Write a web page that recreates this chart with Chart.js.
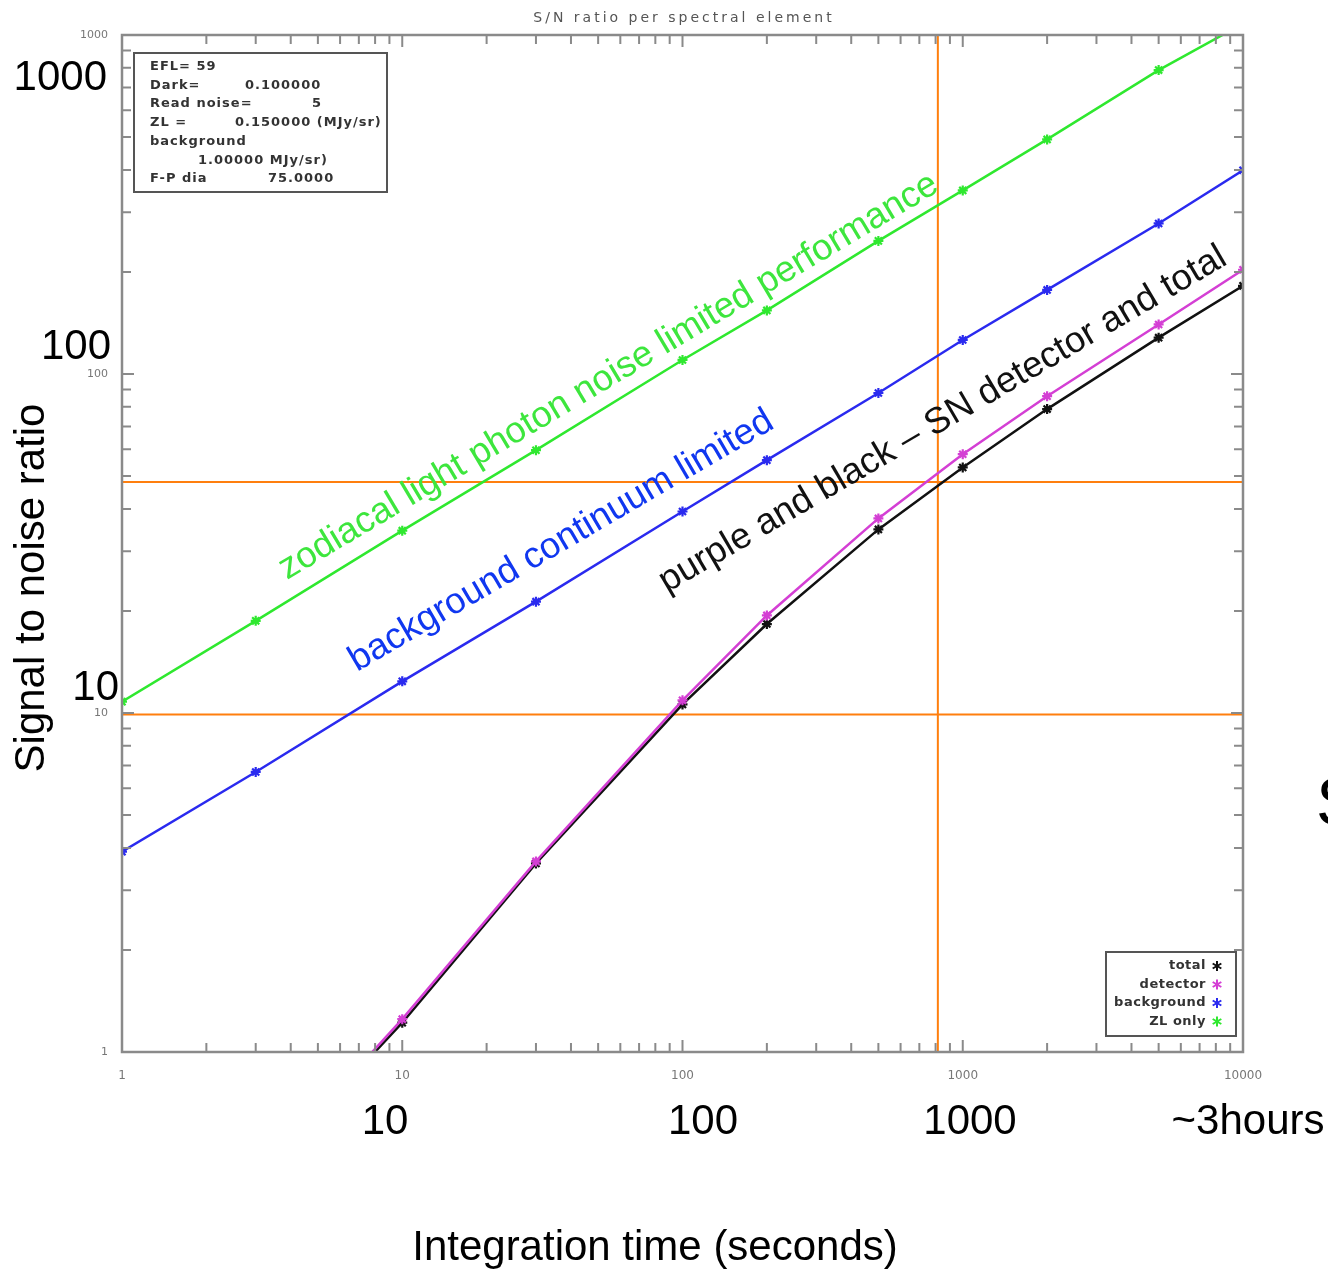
<!DOCTYPE html>
<html>
<head>
<meta charset="utf-8">
<script src="https://cdn.jsdelivr.net/npm/chart.js"></script>
<style>
  body{margin:0;background:#fff;}
  canvas{display:block;}
</style>
</head>
<body>
<canvas id="canvas" width="1328" height="1272"></canvas>
<script>
  // integration times (s) and S/N
  const times = [1, 3, 10, 30, 100, 200, 500, 1000, 2000, 5000, 10000];
  const zlOnly = [10.8, 18.7, 34.5, 59.6, 110, 154, 247, 348, 492, 788, 1080];
  const background = [3.9, 6.7, 12.4, 21.3, 39.3, 55.7, 87.9, 126, 177, 278, 399];
  const detector = [0.14, 0.42, 1.25, 3.65, 10.9, 19.4, 37.5, 58, 86, 140, 203];
  const total = [0.14, 0.42, 1.22, 3.6, 10.6, 18.3, 34.8, 53, 78.8, 128, 182];

  // orange guide lines
  const hLevels = [48, 9.9];
  const vTime = 815;

  const xTickLabels = [1, 10, 100, 1000, 10000];
  const yTickLabels = [1, 10, 100, 1000];
  const legendNames = ['total', 'detector', 'background', 'ZL only'];
  const legendColors = ['#111111', '#d43fd4', '#2a2aef', '#2fe82f'];
  const infoRows = [
    ['EFL= 59', ''],
    ['Dark=', '0.100000'],
    ['Read noise=', '5'],
    ['ZL =', '0.150000 (MJy/sr)'],
    ['background', ''],
    ['', '1.00000 MJy/sr)'],
    ['F-P dia', '75.0000']
  ];

  const ctx = document.getElementById('canvas').getContext('2d');

  function pts(ys){
    return times.map(function(t, i){ return {x: t, y: ys[i]}; });
  }
  function series(label, ys, color){
    return {
      label: label, data: pts(ys),
      borderColor: color, backgroundColor: color,
      borderWidth: 2.5, pointStyle: 'star', pointRadius: 5,
      pointBorderWidth: 2.2, pointBorderColor: color
    };
  }
  function guide(p){
    return {label: 'guide', data: p, borderColor: '#ff7f0e', borderWidth: 2, pointRadius: 0};
  }

  var sites = [
    series('ZL only', zlOnly, legendColors[3]),
    series('background', background, legendColors[2]),
    series('detector', detector, legendColors[1]),
    series('total', total, legendColors[0])
  ];
  hLevels.forEach(function(v){ sites.push(guide([{x: 1, y: v}, {x: 10000, y: v}])); });
  sites.push(guide([{x: vTime, y: 1}, {x: vTime, y: 1000}]));

  function isDecade(v){
    var l = Math.log10(v);
    return Math.abs(l - Math.round(l)) < 1e-6;
  }

  // frame, inward ticks, info box, legend and slide texts
  const decor = {
    id: 'decor',
    afterDraw(chart){
      const c = chart.ctx, a = chart.chartArea;
      const xs = chart.scales.x, ys = chart.scales.y;
      c.save();
      c.strokeStyle = '#8a8a8a';
      c.lineWidth = 2.5;
      c.strokeRect(a.left, a.top, a.right - a.left, a.bottom - a.top);

      c.lineWidth = 2;
      c.beginPath();
      for (var d = 0; d < 4; d++) {
        for (var m = 1; m <= 9; m++) {
          var v = m * Math.pow(10, d);
          var len = m === 1 ? 12 : 9;
          var px = xs.getPixelForValue(v);
          if (v > 1) {
            c.moveTo(px, a.bottom); c.lineTo(px, a.bottom - len);
            c.moveTo(px, a.top); c.lineTo(px, a.top + len);
          }
          if (d < 3 && v > 1) {
            var py = ys.getPixelForValue(v);
            c.moveTo(a.left, py); c.lineTo(a.left + len, py);
            c.moveTo(a.right, py); c.lineTo(a.right - len, py);
          }
        }
      }
      c.stroke();

      // info box
      c.strokeStyle = '#555';
      c.lineWidth = 2;
      c.strokeRect(134, 53, 253, 139);
      c.fillStyle = '#333';
      c.font = 'bold 13px "DejaVu Sans"';
      c.letterSpacing = '1px';
      c.textBaseline = 'middle';
      c.textAlign = 'left';
      var rowY = [67, 86, 104, 123, 142, 161, 179];
      var valX = [0, 245, 312, 235, 0, 198, 268];
      infoRows.forEach(function(r, i){
        if (r[0]) c.fillText(r[0], 150, rowY[i]);
        if (r[1]) c.fillText(r[1], valX[i], rowY[i]);
      });

      // legend
      c.strokeStyle = '#555';
      c.strokeRect(1106, 952, 130, 84);
      c.textAlign = 'right';
      c.letterSpacing = '0.5px';
      legendNames.forEach(function(n, i){
        var y = 966 + i * 18.5;
        c.fillStyle = '#333';
        c.fillText(n, 1206, y);
        c.strokeStyle = legendColors[i];
        c.lineWidth = 2;
        c.beginPath();
        for (var k = 0; k < 3; k++) {
          var ang = k * Math.PI / 3 + Math.PI / 2;
          c.moveTo(1217 - 5 * Math.cos(ang), y - 5 * Math.sin(ang));
          c.lineTo(1217 + 5 * Math.cos(ang), y + 5 * Math.sin(ang));
        }
        c.stroke();
      });

      // title
      c.fillStyle = '#555';
      c.textAlign = 'center';
      c.font = '14px "DejaVu Sans"';
      c.letterSpacing = '3px';
      c.fillText('S/N ratio per spectral element', 684, 18);
      c.letterSpacing = '0px';

      // slide overlay labels
      c.fillStyle = '#000';
      c.font = '42px "Liberation Sans"';
      c.textAlign = 'right';
      c.fillText('1000', 107, 78);
      c.fillText('100', 111, 347);
      c.fillText('10', 119, 688);
      c.textAlign = 'center';
      c.fillText('10', 385, 1122);
      c.fillText('100', 703, 1122);
      c.fillText('1000', 970, 1122);
      c.fillText('~3hours', 1248, 1122);
      c.fillText('Integration time (seconds)', 655, 1248);
      c.save();
      c.translate(32, 588);
      c.rotate(-Math.PI / 2);
      c.fillText('Signal to noise ratio', 0, 0);
      c.restore();
      c.textAlign = 'left';
      c.font = '68px "Liberation Sans"';
      c.fillText('S', 1316, 806);

      // rotated annotations
      c.font = '36.5px "Liberation Sans"';
      c.textBaseline = 'alphabetic';
      function tilted(txt, x, y, deg, col){
        c.save();
        c.translate(x, y);
        c.rotate(-deg * Math.PI / 180);
        c.fillStyle = col;
        c.fillText(txt, 0, 0);
        c.restore();
      }
      tilted('zodiacal light photon noise limited performance', 287, 580, 30.8, '#3de63d');
      tilted('background continuum limited', 357, 672, 30.3, '#1037f0');
      tilted('purple and black \u2013 SN detector and total', 667, 593, 30.4, '#111');
      c.restore();
    }
  };

  const options = {
    responsive: false,
    animation: false,
    layout: {padding: {left: 0, right: 85, top: 35, bottom: 190}},
    plugins: {legend: {display: false}, tooltip: {enabled: false}},
    scales: {
      x: {
        type: 'logarithmic', min: 1, max: 10000,
        grid: {display: false}, border: {display: false},
        afterFit: function(s){ s.height = 30; },
        ticks: {
          autoSkip: false, maxRotation: 0, padding: 9,
          color: '#777', font: {family: 'DejaVu Sans', size: 12},
          callback: function(v){ return (isDecade(v) && xTickLabels.indexOf(Math.round(v)) >= 0) ? String(Math.round(v)) : ''; }
        }
      },
      y: {
        type: 'logarithmic', min: 1, max: 1000,
        grid: {display: false}, border: {display: false},
        afterFit: function(s){ s.width = 122; },
        ticks: {
          autoSkip: false, padding: 6,
          color: '#777', font: {family: 'DejaVu Sans', size: 11},
          callback: function(v){ return (isDecade(v) && yTickLabels.indexOf(Math.round(v)) >= 0) ? String(Math.round(v)) : ''; }
        }
      }
    }
  };

  var chart = new Chart(ctx, {
    type: 'line',
    data: {datasets: sites},
    options: options,
    plugins: [decor]
  });
</script>
</body>
</html>
